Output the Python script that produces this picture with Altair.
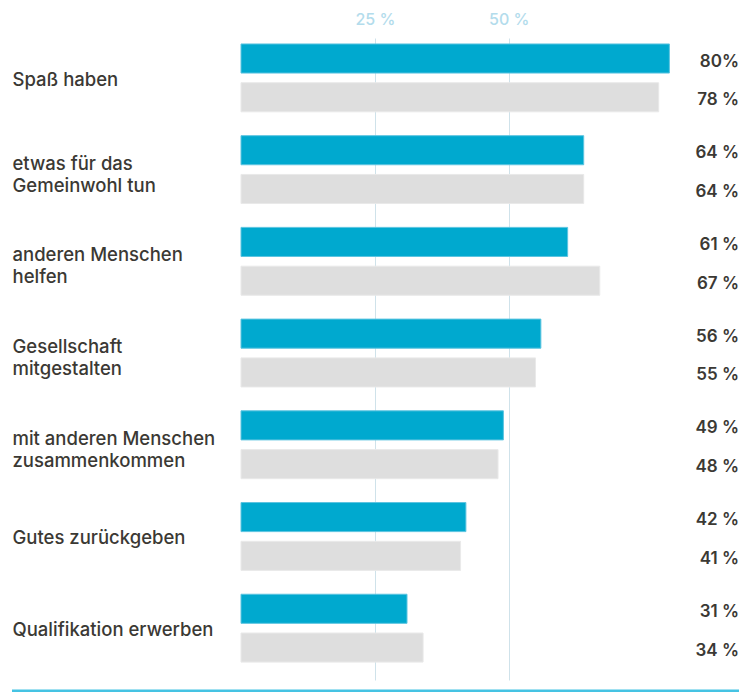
import altair as alt
import pandas as pd

categories = [
    "Spaß haben",
    "etwas für das|Gemeinwohl tun",
    "anderen Menschen|helfen",
    "Gesellschaft|mitgestalten",
    "mit anderen Menschen|zusammenkommen",
    "Gutes zurückgeben",
    "Qualifikation erwerben",
]
series_names = ["aktuell", "vorher"]
values_a = [80, 64, 61, 56, 49, 42, 31]
values_b = [78, 64, 67, 55, 48, 41, 34]
labels_a = ["80%", "64 %", "61 %", "56 %", "49 %", "42 %", "31 %"]
labels_b = ["78 %", "64 %", "67 %", "55 %", "48 %", "41 %", "34 %"]
tick_values = [25, 50]

rows = []
for c, va, vb, la, lb in zip(categories, values_a, values_b, labels_a, labels_b):
    rows.append({"cat": c, "serie": series_names[0], "wert": va, "label": la})
    rows.append({"cat": c, "serie": series_names[1], "wert": vb, "label": lb})
df = pd.DataFrame(rows)

W, H = 498, 642
TEXT = "#3b3934"

y_axis = alt.Axis(
    title=None,
    orient="left",
    labelAlign="left",
    labelBaseline="middle",
    labelPadding=229,
    ticks=False,
    tickSize=0,
    domain=False,
    grid=False,
    labelExpr="split(datum.label, '|')",
    labelLineHeight=22,
    labelOffset={
        "condition": {"test": "indexof(datum.value, '|') >= 0", "value": -6},
        "value": 2,
    },
    labelFont="Inter",
    labelFontSize=18.5,
    labelFontWeight=500,
    labelColor=TEXT,
    labelLimit=300,
)
y_scale = alt.Scale(paddingInner=0.26, paddingOuter=0.13, align=0.25)
y_off = alt.YOffset(
    "serie:N", sort=series_names, scale=alt.Scale(paddingInner=0.25, paddingOuter=0)
)

bars = alt.Chart(df).mark_bar(strokeWidth=1).encode(
    x=alt.X(
        "wert:Q",
        scale=alt.Scale(domain=[0, 93], nice=False),
        axis=alt.Axis(
            orient="top",
            title=None,
            values=tick_values,
            labelExpr="datum.value + ' %'",
            domain=False,
            ticks=False,
            tickSize=0,
            grid=True,
            gridColor="#cfe2ea",
            gridWidth=1,
            labelPadding=14,
            labelBaseline="alphabetic",
            labelFont="Inter",
            labelFontSize=16,
            labelFontWeight=500,
            labelColor="#b3dcec",
        ),
    ),
    y=alt.Y("cat:N", sort=categories, scale=y_scale, axis=y_axis),
    yOffset=y_off,
    color=alt.Color(
        "serie:N",
        sort=series_names,
        scale=alt.Scale(domain=series_names, range=["#00a9cf", "#dedede"]),
        legend=None,
    ),
    stroke=alt.Stroke(
        "serie:N",
        sort=series_names,
        scale=alt.Scale(domain=series_names, range=["#5cc4e0", "#e9e9e9"]),
        legend=None,
    ),
)

texts = alt.Chart(df).mark_text(
    align="right",
    baseline="middle",
    dy=3,
    font="Inter",
    fontSize=17,
    fontWeight=600,
    color=TEXT,
).encode(
    x=alt.value(498),
    y=alt.Y("cat:N", sort=categories, scale=y_scale, axis=y_axis),
    yOffset=y_off,
    text="label:N",
)

bottom_line = alt.Chart(pd.DataFrame({"a": [0]})).mark_rule(
    color="#45c3e3", strokeWidth=3
).encode(x=alt.value(-229), x2=alt.value(498), y=alt.value(653))

chart = (
    alt.layer(bars, texts, bottom_line)
    .properties(
        width=W,
        height=H,
        autosize=alt.AutoSizeParams(type="none"),
        padding={"left": 233, "top": 30, "right": 0, "bottom": 12},
        view=alt.ViewBackground(stroke="transparent", strokeWidth=0),
    )
    .configure_view(stroke="transparent", strokeWidth=0)
    .configure_axis(domain=False)
    .configure(background="white")
)

chart.save("out.html", embed_options={"renderer": "svg", "actions": False})
